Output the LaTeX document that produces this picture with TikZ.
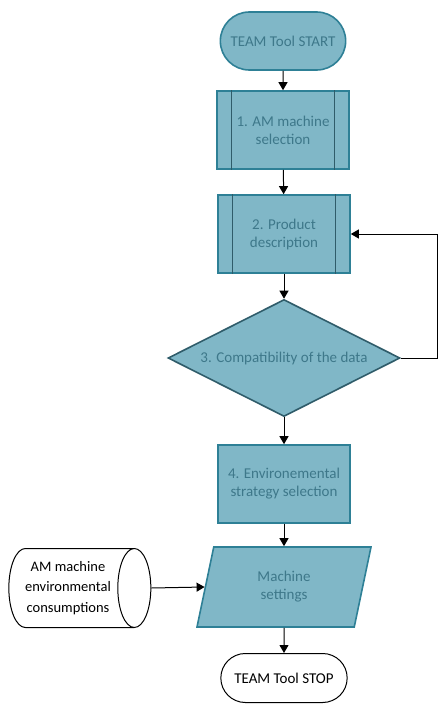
\documentclass[tikz,border=0pt]{standalone}
\usepackage{fontspec}
\setmainfont{Carlito}
\usetikzlibrary{shapes.geometric,shapes.misc,arrows.meta}

\definecolor{tealfill}{RGB}{128,183,199}
\definecolor{tealline}{RGB}{46,128,150}
\definecolor{tealtext}{RGB}{62,120,138}
\definecolor{tealdark}{RGB}{47,92,106}

\tikzset{every path/.style={line width=1 pt}}
\tikzset{flow/.style={-{Triangle[length=8pt,width=9pt]}, black}}
\tikzset{terminal/.style={rounded rectangle, fill=tealfill, draw=tealline, line width=1.6pt, text=tealtext, minimum width=132pt, minimum height=58pt, font=\fontsize{15}{18}\selectfont}}
\tikzset{process/.style={rectangle, fill=tealfill, draw=tealline, line width=1.6pt, text=tealtext, minimum width=132pt, minimum height=78pt, align=center, font=\fontsize{15}{18}\selectfont}}
\tikzset{decision/.style={diamond, aspect=2, inner sep=0pt, fill=tealfill, draw=tealdark, line width=1.6pt, text=tealtext, minimum width=232pt, minimum height=117pt, font=\fontsize{15}{18}\selectfont}}
\tikzset{datain/.style={trapezium, trapezium left angle=66, trapezium right angle=114, trapezium stretches body, fill=tealfill, draw=tealline, line width=1.6pt, text=tealtext, minimum width=174pt, minimum height=80pt, align=center, font=\fontsize{15}{18}\selectfont}}
\tikzset{storage/.style={cylinder, aspect=0.55, draw=black, fill=white, inner xsep=2pt, minimum width=79pt, minimum height=142pt, align=center, font=\fontsize{14.5}{20.5}\selectfont}}
\tikzset{stopterm/.style={rounded rectangle, draw=black, fill=white, minimum width=133pt, minimum height=49pt, font=\fontsize{15}{18}\selectfont}}

\begin{document}
\begin{tikzpicture}[x=1pt,y=-1pt]
\useasboundingbox (0,0) rectangle (438,704);

\node[terminal] (start) at (283,41) {TEAM Tool START};
\node[process] (amsel) at (283,130) {1. AM machine\\selection};
\node[process] (prod) at (284,234) {2. Product\\description};
\node[decision] (compat) at (284,358) {3. Compatibility of the data};
\node[process] (envsel) at (284,484) {4. Environemental\\strategy selection};
\node[datain] (settings) at (284,587) {Machine\\settings};
\node[storage] (consum) at (68,588) {AM machine\\environmental\\consumptions};
\node[stopterm] (stop) at (284,678) {TEAM Tool STOP};

% inner bars of the predefined processes
\draw[tealdark, line width=1.2pt] ([xshift=15pt]amsel.north west) -- ([xshift=15pt]amsel.south west);
\draw[tealdark, line width=1.2pt] ([xshift=-15pt]amsel.north east) -- ([xshift=-15pt]amsel.south east);
\draw[tealdark, line width=1.2pt] ([xshift=15pt]prod.north west) -- ([xshift=15pt]prod.south west);
\draw[tealdark, line width=1.2pt] ([xshift=-15pt]prod.north east) -- ([xshift=-15pt]prod.south east);

\draw[flow] (start) -- (amsel);
\draw[flow] (amsel) -- (prod);
\draw[flow] (prod) -- (compat);
\draw[flow] (compat) -- (envsel);
\draw[flow] (envsel) -- (settings);
\draw[flow] (settings) -- (stop);
\draw[flow] (compat.east) -- ++(37,0) |- (prod.east);
\draw[flow] (consum.east) -- (settings.left side);

\end{tikzpicture}
\end{document}
